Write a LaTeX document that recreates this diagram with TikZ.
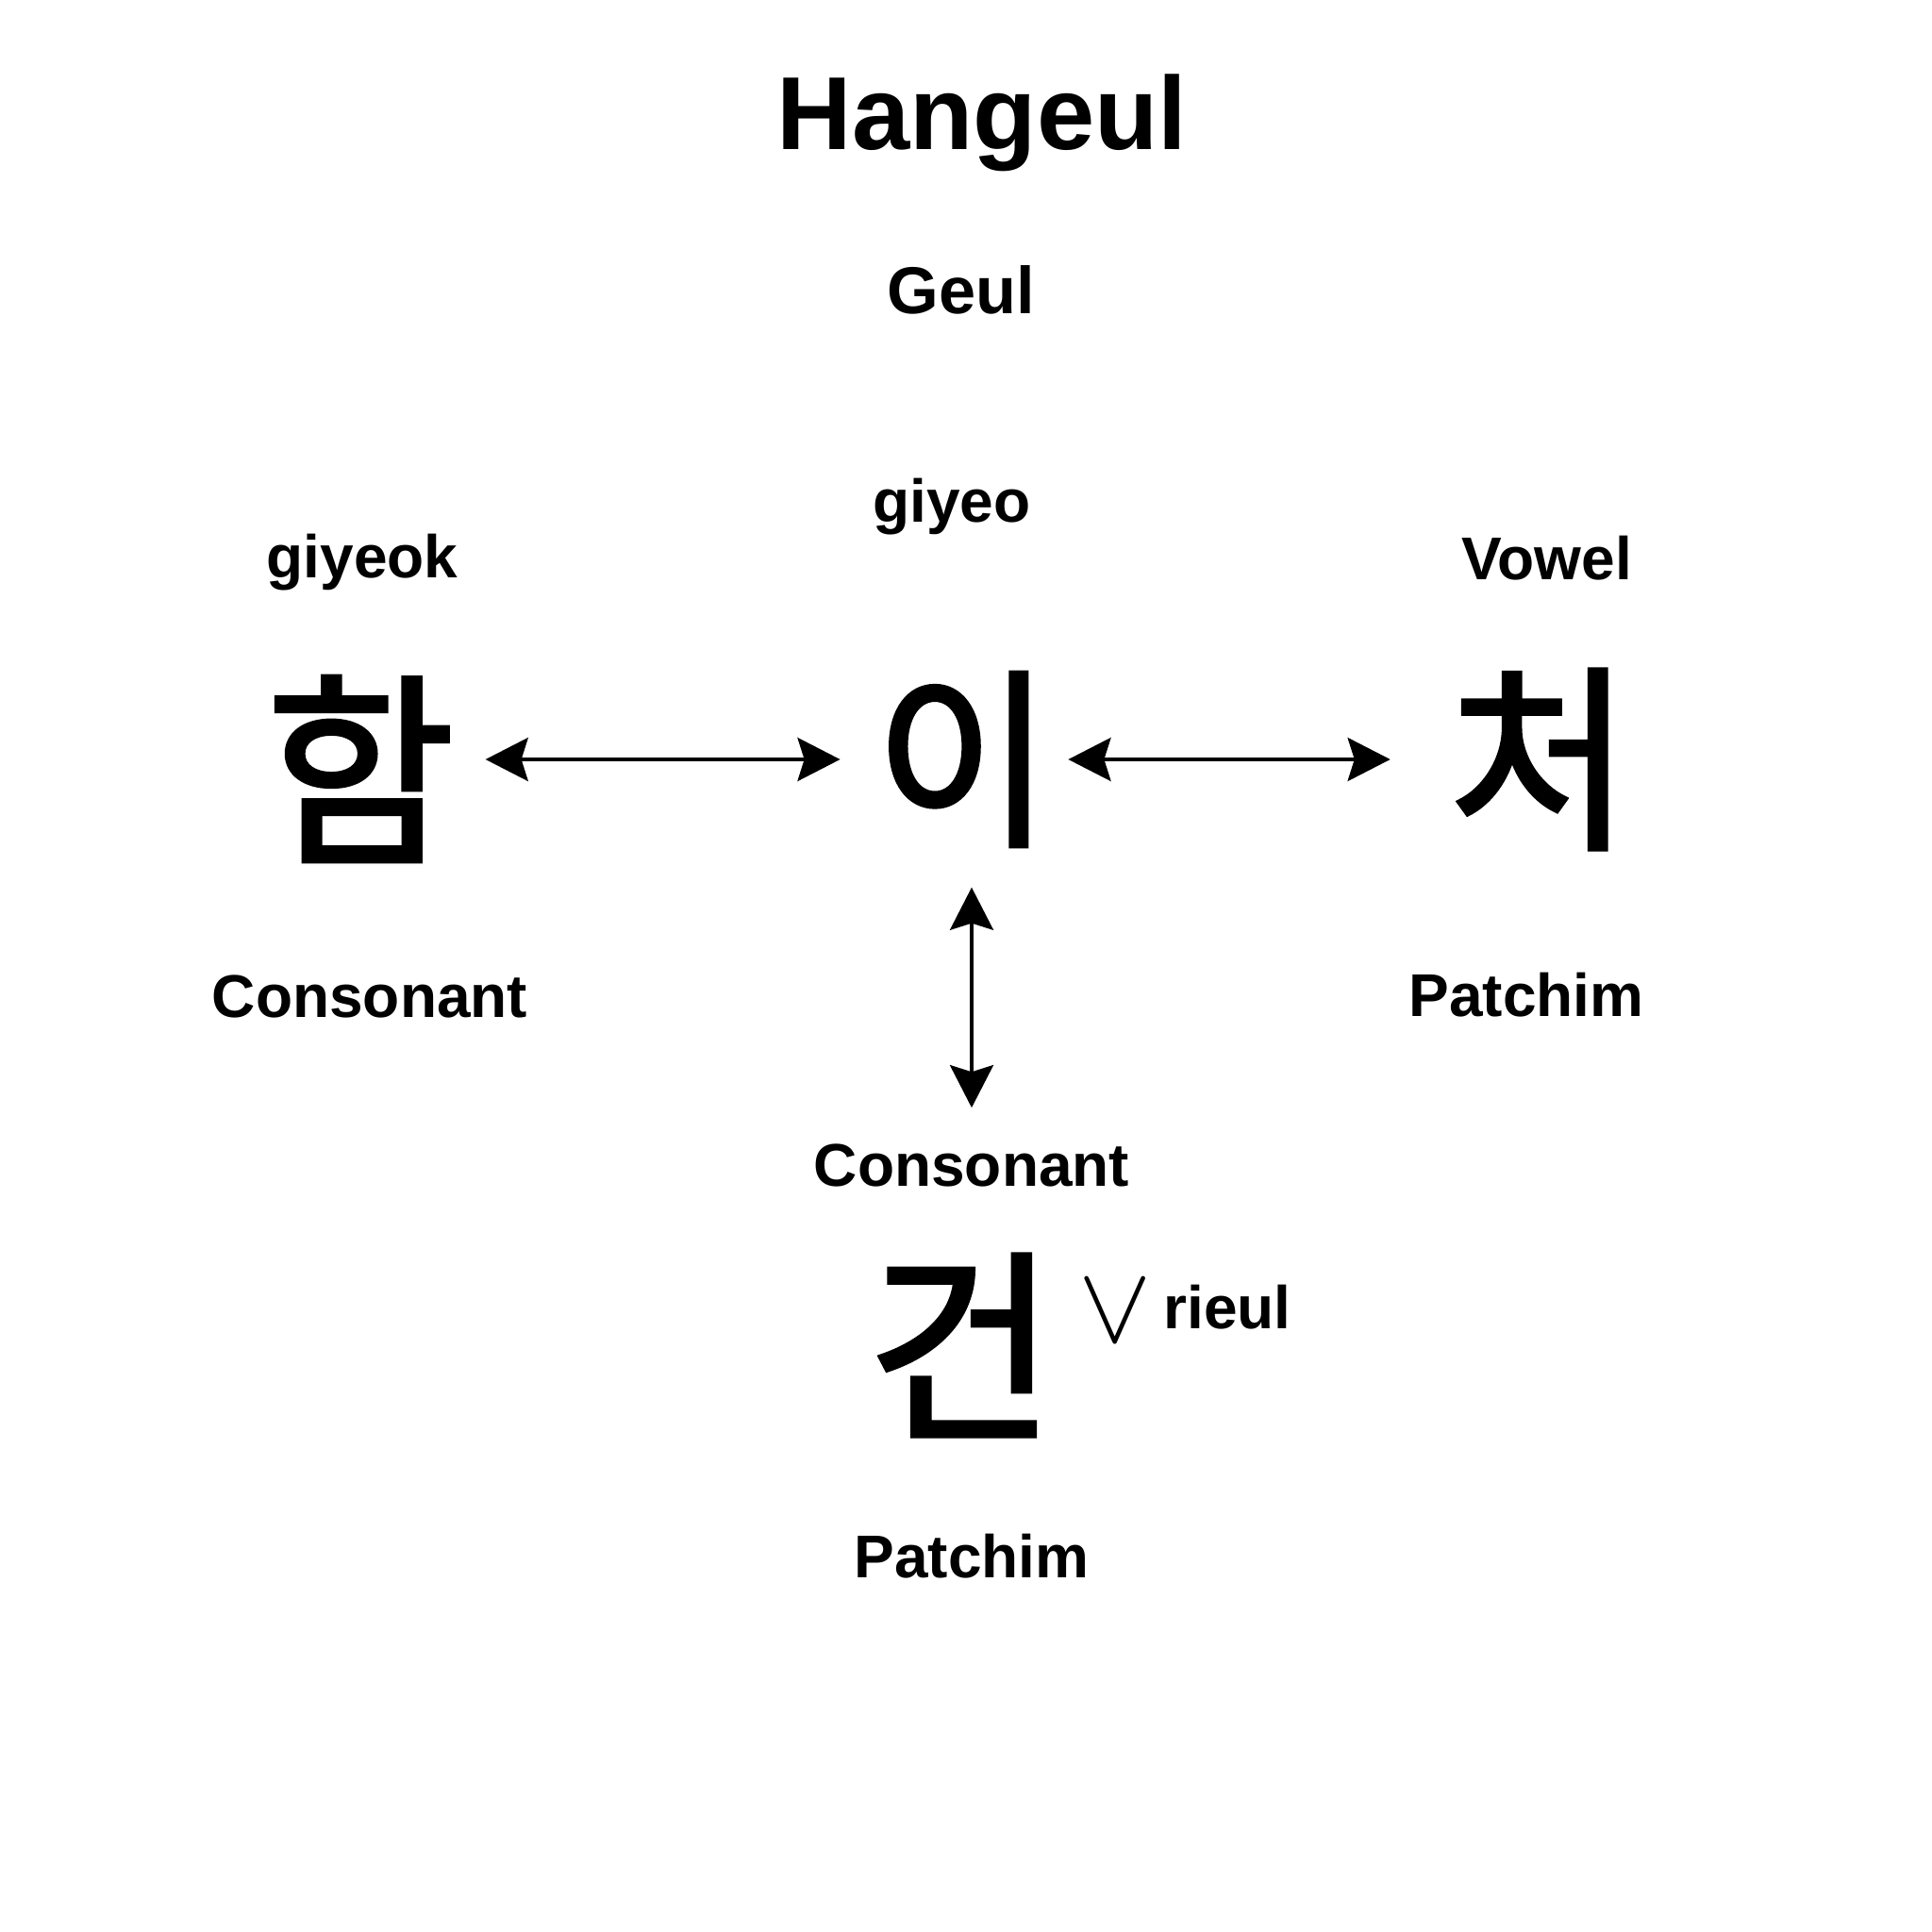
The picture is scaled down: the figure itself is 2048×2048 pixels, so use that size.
\RequirePackage{fix-cm}
\documentclass[tikz,border=0pt]{standalone}
\usepackage{fontspec}
\setmainfont{Liberation Sans}
\newfontfamily\krfont{Noto Sans CJK KR}[RawFeature={embolden=2}]
\usetikzlibrary{arrows.meta}

\begin{document}
\begin{tikzpicture}[x=0.01cm,y=-0.01cm,
  lbl/.style={font=\bfseries\fontsize{18.2}{20}\selectfont,anchor=base},
  syl/.style={font=\krfont\fontsize{58}{60}\selectfont,inner sep=0pt},
  dbl/.style={<->,>={Stealth[length=12.8pt,width=13pt,inset=2pt]},line width=1.4pt}]
\useasboundingbox (0,0) rectangle (2048,2048);
\fill[white] (0,0) rectangle (2048,2048);

\node[lbl,font=\bfseries\fontsize{31.3}{33}\selectfont] (title) at (1041,158) {Hangeul};
\node[lbl,font=\bfseries\fontsize{20}{22}\selectfont] (geul) at (1019,332) {Geul};

\node[lbl] (giyeo) at (1009,553) {giyeo};
\node[lbl] (giyeok) at (384,612) {giyeok};
\node[lbl] (vowel) at (1640,614) {Vowel};

\node[syl,font=\krfont\fontsize{62}{64}\selectfont] (ham) at (382,815) {함};
\node[syl] (i) at (1021,805) {이};
\node[syl,font=\krfont\fontsize{60}{62}\selectfont] (cheo) at (1632,805) {처};

\node[lbl] (cons1) at (392,1078) {Consonant};
\node[lbl] (patchim1) at (1618,1077) {Patchim};
\node[lbl] (cons2) at (1030,1257) {Consonant};

\node[syl,font=\krfont\fontsize{62}{64}\selectfont] (geon) at (1019,1426) {건};
\node[font=\fontsize{33}{35}\selectfont] (orsign) at (1182,1390) {$\vee$};
\node[lbl] (rieul) at (1301,1408) {rieul};
\node[lbl] (patchim2) at (1030,1672) {Patchim};

\draw[dbl,shorten <=9pt,shorten >=10.2pt] (ham.east |- i.west) -- (i.west);
\draw[dbl,shorten <=4.8pt,shorten >=17.2pt] (i.east) -- (cheo.west);
\draw[dbl,shorten <=12.1pt,shorten >=7.3pt] (i.south -| cons2.north) -- (cons2.north);

\end{tikzpicture}
\end{document}
